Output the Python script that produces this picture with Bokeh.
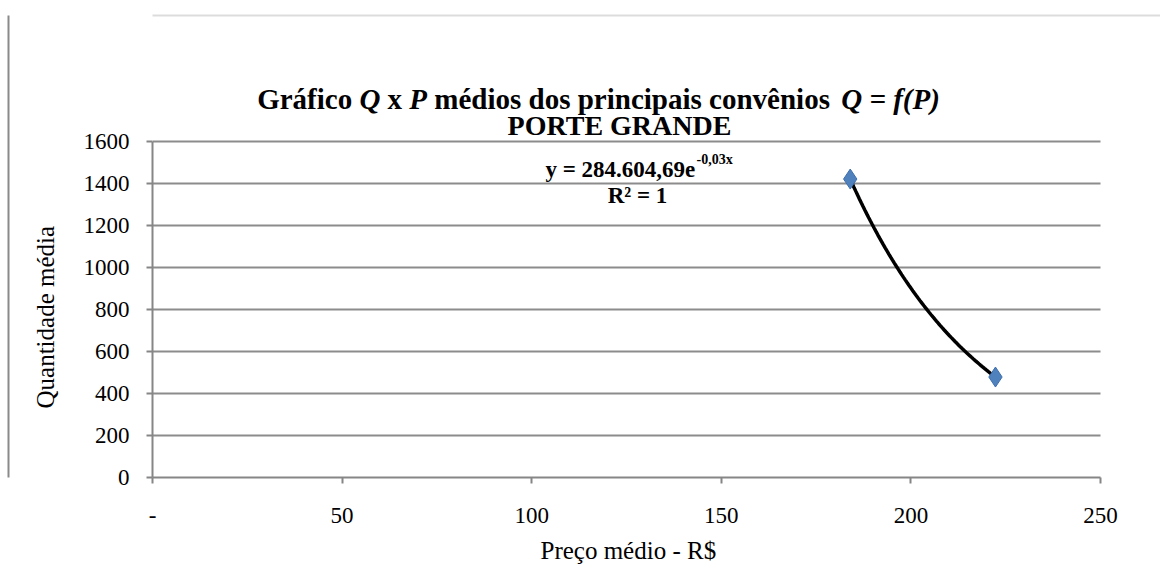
import numpy as np
from bokeh.plotting import figure
from bokeh.models import Range1d, Label, BoxAnnotation, Title, LinearAxis, FixedTicker
from bokeh.embed import file_html
from bokeh.resources import INLINE

# ---- data ----
price = [184.0, 222.3]          # Preço médio - R$
quantity = [1420, 478]          # Quantidade média
x_ticks = [0, 50, 100, 150, 200, 250]
y_ticks = [0, 200, 400, 600, 800, 1000, 1200, 1400, 1600]
x_tick_labels = {0: "-"}
x_label = "Preço médio - R$"
y_label = "Quantidade média"
eq_text = "y = 284.604,69e"
eq_exp = "-0,03x"
r2_text = "R² = 1"
title_parts = [("Gráfico", "bold"), ("Q", "bold italic"), ("x", "bold"), ("P", "bold italic"),
               ("médios dos principais convênios", "bold"), ("Q = f(P)", "bold italic")]
title_line2 = "PORTE GRANDE"

# exponential trendline fitted to the two points (as the spreadsheet trendline)
b, ln_a = np.polyfit(price, np.log(quantity), 1)
xs = np.linspace(min(price), max(price), 80)
ys = np.exp(ln_a) * np.exp(b * xs)

FONT = "Liberation Serif"
W, H = 1160, 572
FRAME_L = 152                      # page px of x=0
X250_PX = 1100                     # page px of x=250
Y0_PX, Y1600_PX = 478, 141         # page px of y=0 and y=1600
PX_PER_X = (X250_PX - FRAME_L) / 250
PX_PER_Y = (Y0_PX - Y1600_PX) / 1600
FW = W - FRAME_L                   # frame runs to the right edge (axis/grid bounded)
FH = Y0_PX                         # frame reaches the canvas top (title area inside frame)
X_END = FW / PX_PER_X
Y_TOP = FH / PX_PER_Y

p = figure(width=W, height=H, output_backend="svg", toolbar_location=None,
           x_range=Range1d(0, X_END), y_range=Range1d(0, Y_TOP),
           min_border_left=FRAME_L, min_border_top=0,
           min_border_right=0, min_border_bottom=H - FH)
p.outline_line_color = None
p.xgrid.grid_line_color = None
p.ygrid.grid_line_color = "#8c8c8c"
p.ygrid.grid_line_width = 2
p.ygrid.ticker = y_ticks
try:
    p.ygrid.cross_bounds = (0, 250)
except Exception:
    pass

for ax in (p.xaxis[0], p.yaxis[0]):
    ax.axis_line_color = "#868686"
    ax.axis_line_width = 2
    ax.major_tick_line_color = "#868686"
    ax.major_tick_line_width = 2
    ax.major_tick_in = 0
    ax.major_tick_out = 6
    ax.minor_tick_line_color = None
    ax.major_label_text_font = FONT
    ax.major_label_text_font_size = "23px"
    ax.major_label_text_color = "#000000"

p.xaxis.ticker = x_ticks
p.xaxis.bounds = (0, 250)
p.xaxis.major_label_overrides = x_tick_labels
p.xaxis.major_label_standoff = 24
p.yaxis.ticker = y_ticks
p.yaxis.bounds = (0, 1600)
p.yaxis.major_label_standoff = 17

# axis titles placed along the plotted part of the axes
p.add_layout(Title(text=y_label, align="left", offset=57, standoff=19, padding=12, text_font=FONT,
                   text_font_size="25px", text_font_style="normal", text_color="black"), "left")
p.add_layout(Title(text=x_label, align="left", offset=540 - FRAME_L, standoff=18, text_font=FONT,
                   text_font_size="25px", text_font_style="normal", text_color="black"), "below")

# helpers page pixel -> data
def dx(px):
    return (px - FRAME_L) / PX_PER_X

def dy(py):
    return (Y0_PX - py) / PX_PER_Y

# left edge of the chart area (an empty axis used as a border line)
border_axis = LinearAxis(ticker=FixedTicker(ticks=[]), axis_line_color="#8a8a8a", axis_line_width=2,
                         major_tick_line_color=None, minor_tick_line_color=None,
                         major_label_text_font_size="0px", bounds=(0, dy(15)))
p.add_layout(border_axis, "left")

p.line(xs, ys, line_color="black", line_width=3.5)
p.scatter(price, quantity, marker="diamond", size=20, fill_color="#4F81BD", line_color="#3E6FAE", line_width=1)

# top edge of the chart area
try:
    p.add_layout(BoxAnnotation(left=0, right=W + 20, top=15, bottom=H + 50,
                               left_units="canvas", right_units="canvas",
                               top_units="canvas", bottom_units="canvas",
                               fill_color=None, line_color="#8a8a8a", line_width=2))
except Exception:
    pass

# title line 1 (pieces with mixed style), widths in em
widths = {"Gráfico": 3.277, "Q": 0.722, "x": 0.5, "P": 0.611,
          "médios dos principais convênios": 13.78, "Q = f(P)": 3.402}
space = 0.25
fs = 29
total = (sum(widths[t] for t, _ in title_parts) + space * (len(title_parts) - 1)) * fs
x0 = 598 - total / 2
for t, style in title_parts:
    p.add_layout(Label(x=dx(x0), y=dy(99), text=t, text_font=FONT, text_font_size=f"{fs}px",
                       text_font_style=style, text_align="left", text_baseline="alphabetic",
                       text_color="black"))
    x0 += (widths[t] + space) * fs
p.add_layout(Label(x=dx(619), y=dy(125), text=title_line2, text_font=FONT, text_font_size="28px",
                   text_font_style="bold", text_align="center", text_baseline="alphabetic", text_color="black"))

# trendline equation
p.add_layout(Label(x=dx(545), y=dy(169), text=eq_text, text_font=FONT, text_font_size="23px",
                   text_font_style="bold", text_align="left", text_baseline="alphabetic", text_color="black"))
p.add_layout(Label(x=dx(696), y=dy(159), text=eq_exp, text_font=FONT, text_font_size="14px",
                   text_font_style="bold", text_align="left", text_baseline="alphabetic", text_color="black"))
p.add_layout(Label(x=dx(637), y=dy(195), text=r2_text, text_font=FONT, text_font_size="23px",
                   text_font_style="bold", text_align="center", text_baseline="alphabetic", text_color="black"))

open("out.html", "w").write(file_html(p, INLINE))
